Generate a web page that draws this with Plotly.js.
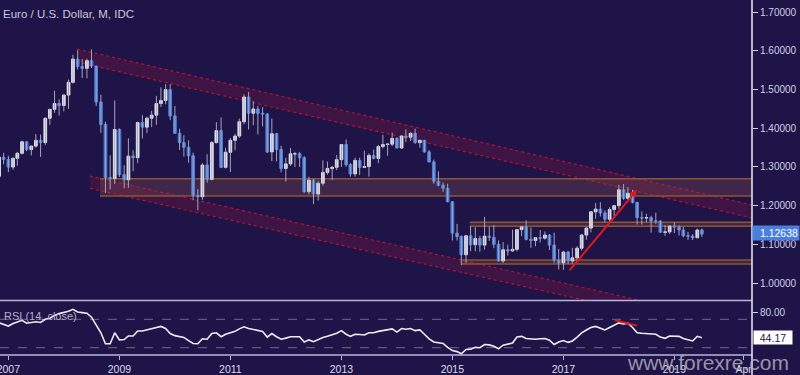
<!DOCTYPE html>
<html>
<head>
<meta charset="utf-8">
<script src="https://cdn.plot.ly/plotly-3.0.1.min.js"></script>
<style>
html,body{margin:0;padding:0;background:#1f1448;}
#chart{width:800px;height:375px;}
</style>
</head>
<body>
<div id="chart"></div>
<script>
// ---- Data (monthly EUR/USD, Nov 2006 .. Jul 2019) ----
const firstMonth = [2006, 10]; // year, 0-based month (Nov 2006)
const openP = [
1.2760,1.3250,
1.3197,1.2997,1.3225,1.3354,1.3652,1.3450,1.3540,1.3690,1.3630,1.4260,1.4490,1.4640,
1.4590,1.4860,1.5190,1.5790,1.5600,1.5550,1.5750,1.5610,1.4680,1.4100,1.2730,1.2700,
1.3970,1.2800,1.2670,1.3280,1.3240,1.4150,1.4030,1.4260,1.4340,1.4640,1.4720,1.5000,
1.4320,1.3870,1.3630,1.3510,1.3290,1.2270,1.2230,1.3050,1.2680,1.3630,1.3940,1.2990,
1.3380,1.3690,1.3800,1.4170,1.4810,1.4390,1.4500,1.4390,1.4370,1.3390,1.3860,1.3450,
1.2960,1.3080,1.3340,1.3340,1.3240,1.2360,1.2660,1.2300,1.2580,1.2860,1.2960,1.2990,
1.3190,1.3580,1.3060,1.2820,1.3170,1.2990,1.3010,1.3300,1.3220,1.3530,1.3580,1.3590,
1.3740,1.3490,1.3800,1.3770,1.3870,1.3630,1.3690,1.3390,1.3130,1.2630,1.2530,1.2450,
1.2100,1.1290,1.1200,1.0730,1.1220,1.0990,1.1150,1.0980,1.1210,1.1180,1.1000,1.0570,
1.0860,1.0830,1.0870,1.1380,1.1450,1.1130,1.1100,1.1170,1.1160,1.1240,1.0980,1.0590,
1.0520,1.0800,1.0570,1.0650,1.0900,1.1240,1.1420,1.1840,1.1910,1.1810,1.1650,1.1900,
1.2000,1.2410,1.2190,1.2320,1.2080,1.1690,1.1680,1.1690,1.1600,1.1600,1.1310,1.1320,
1.1470,1.1450,1.1370,1.1220,1.1210,1.1170,1.1370];
const highP = [
1.3270,1.3367,
1.3290,1.3249,1.3390,1.3680,1.3660,1.3550,1.3850,1.3840,1.4280,1.4500,1.4970,1.4750,
1.4880,1.5260,1.5900,1.6020,1.5790,1.5800,1.6040,1.5620,1.4870,1.4170,1.3300,1.4720,
1.4000,1.3050,1.3740,1.3430,1.4170,1.4340,1.4300,1.4450,1.4840,1.5060,1.5140,1.5140,
1.4580,1.3990,1.3820,1.3690,1.3370,1.2430,1.3100,1.3330,1.3670,1.4160,1.4280,1.3500,
1.3750,1.3860,1.4250,1.4880,1.4940,1.4700,1.4580,1.4550,1.4390,1.4250,1.3880,1.3550,
1.3240,1.3490,1.3390,1.3390,1.3280,1.2750,1.2690,1.2640,1.3170,1.3140,1.3030,1.3310,
1.3590,1.3710,1.3100,1.3240,1.3240,1.3420,1.3350,1.3450,1.3570,1.3830,1.3620,1.3890,
1.3770,1.3820,1.3970,1.3900,1.3990,1.3700,1.3700,1.3440,1.3190,1.2890,1.2600,1.2570,
1.2110,1.1530,1.1230,1.1230,1.1470,1.1440,1.1220,1.1710,1.1460,1.1500,1.1100,1.1060,
1.0990,1.1380,1.1390,1.1470,1.1620,1.1430,1.1190,1.1370,1.1330,1.1260,1.1300,1.0880,
1.0830,1.0830,1.0910,1.0950,1.1270,1.1450,1.1850,1.2070,1.2090,1.1880,1.1960,1.2020,
1.2540,1.2560,1.2480,1.2410,1.2100,1.1850,1.1790,1.1740,1.1820,1.1630,1.1500,1.1490,
1.1570,1.1490,1.1450,1.1320,1.1260,1.1410,1.1410];
const lowP = [
1.2740,1.3070,
1.2866,1.2930,1.3030,1.3320,1.3410,1.3300,1.3500,1.3260,1.3570,1.4090,1.4400,1.4330,
1.4440,1.4500,1.5160,1.5520,1.5300,1.5290,1.5560,1.4580,1.3880,1.2330,1.2420,1.2560,
1.2740,1.2450,1.2460,1.2890,1.3100,1.3740,1.3880,1.4030,1.4090,1.4550,1.4620,1.4210,
1.3860,1.3440,1.3270,1.3110,1.2140,1.1880,1.2150,1.2590,1.2650,1.3610,1.2970,1.2960,
1.2870,1.3430,1.3750,1.4100,1.3970,1.4080,1.3840,1.4050,1.3360,1.3150,1.3150,1.2860,
1.2620,1.3030,1.3000,1.3000,1.2330,1.2290,1.2040,1.2130,1.2520,1.2800,1.2660,1.2920,
1.3000,1.3010,1.2750,1.2750,1.2790,1.2990,1.2750,1.3200,1.3100,1.3480,1.3290,1.3540,
1.3480,1.3470,1.3640,1.3670,1.3600,1.3500,1.3370,1.3120,1.2570,1.2500,1.2360,1.2090,
1.1100,1.1100,1.0460,1.0520,1.0820,1.0820,1.0810,1.0860,1.1090,1.0900,1.0560,1.0520,
1.0710,1.0810,1.0820,1.1210,1.1100,1.0910,1.0950,1.1050,1.1120,1.0850,1.0520,1.0350,
1.0340,1.0490,1.0500,1.0570,1.0840,1.1120,1.1310,1.1660,1.1720,1.1570,1.1550,1.1720,
1.1920,1.2150,1.2150,1.2060,1.1510,1.1510,1.1570,1.1300,1.1530,1.1300,1.1220,1.1270,
1.1290,1.1230,1.1180,1.1110,1.1110,1.1160,1.1190];
const closeP = [
1.3250,1.3197,
1.2997,1.3225,1.3354,1.3652,1.3450,1.3540,1.3690,1.3630,1.4260,1.4490,1.4640,1.4590,
1.4860,1.5190,1.5790,1.5600,1.5550,1.5750,1.5610,1.4680,1.4100,1.2730,1.2700,1.3970,
1.2800,1.2670,1.3280,1.3240,1.4150,1.4030,1.4260,1.4340,1.4640,1.4720,1.5000,1.4320,
1.3870,1.3630,1.3510,1.3290,1.2270,1.2230,1.3050,1.2680,1.3630,1.3940,1.2990,1.3380,
1.3690,1.3800,1.4170,1.4810,1.4390,1.4500,1.4390,1.4370,1.3390,1.3860,1.3450,1.2960,
1.3080,1.3340,1.3340,1.3240,1.2360,1.2660,1.2300,1.2580,1.2860,1.2960,1.2990,1.3190,
1.3580,1.3060,1.2820,1.3170,1.2990,1.3010,1.3300,1.3220,1.3530,1.3580,1.3590,1.3740,
1.3490,1.3800,1.3770,1.3870,1.3630,1.3690,1.3390,1.3130,1.2630,1.2530,1.2450,1.2100,
1.1290,1.1200,1.0730,1.1220,1.0990,1.1150,1.0980,1.1210,1.1180,1.1000,1.0570,1.0860,
1.0830,1.0870,1.1380,1.1450,1.1130,1.1100,1.1170,1.1160,1.1240,1.0980,1.0590,1.0520,
1.0800,1.0570,1.0650,1.0900,1.1240,1.1420,1.1840,1.1910,1.1810,1.1650,1.1900,1.2000,
1.2410,1.2190,1.2320,1.2080,1.1690,1.1680,1.1690,1.1600,1.1600,1.1310,1.1320,1.1470,
1.1450,1.1370,1.1220,1.1210,1.1170,1.1370,1.12638];
const rsiVals = [
65,63,
60.5,64,66.5,68.5,64.5,66,66.5,65.5,70,71.5,75.5,78,
79.6,81.3,84,80.3,79.4,78.6,73,61.5,51,35.5,35.5,51,
41,41.5,46.5,46.5,53.5,53.5,55,56,58,60,57,50,
47,45.5,44.5,40,36,35.5,42.5,42,50,51,45.5,49,
51.5,53,56.5,59.5,57,56,55,53,45,50,45.5,42,
43.5,45.5,45.5,45.5,38,41,38.5,41.5,44.5,46,48,50.5,
54,49,46,49,48.5,48,51,51,53,54.5,55.5,56.5,
52,57,56,57,54,55,49,42.5,38,37,36,30.5,
26,24.5,21.5,27.5,28,30.5,30,34.5,34,32,28.5,33.5,
34.5,36.5,45,46,43,42,42,42.5,43,40.5,34.5,38,
40,37.5,39.5,45,51,55,58.5,60,57.5,55,58.5,61.5,
65,63.5,64.5,58.5,51,50.3,50,49.3,49,45,43.2,46.5,
46.5,46,43,41,39.5,46,44.17];

// tick labels
const tickDates = ['2007-01-01','2009-01-01','2011-01-01','2013-01-01','2015-01-01','2017-01-01','2019-01-01','2020-04-01'];
const tickLabels = ['2007','2009','2011','2013','2015','2017','2019','Apr'];
const priceTicks = [1.0,1.1,1.2,1.3,1.4,1.5,1.6,1.7];

// drawn annotations (channels, zones, trend lines)
const upperChannelX = ['2008-03-28','2020-05-26'];
const upperChannelTop = [1.6051, 1.2017];
const upperChannelBot = [1.5715, 1.1681];
const lowerChannelX = ['2008-06-21','2020-05-26'];
const lowerChannelTop = [1.2767, 0.8893];
const lowerChannelBot = [1.2449, 0.8575];
const zoneStart = ['2008-08-26','2015-04-26','2015-03-03'];
const zoneTop = [1.2697, 1.1570, 1.0595];
const zoneBot = [1.2250, 1.1466, 1.0492];
const trendX = ['2017-02-03','2018-04-30'];
const trendY = [1.0292, 1.2405];
const rsiTrendX = ['2017-12-06','2018-05-01'];
const rsiTrendY = [68.6, 61.1];
const lastPrice = 1.12638;
const lastRsi = 44.17;

// ---- Build ----
const months = [];
for (let i = 0; i < closeP.length; i++) {
  const d = new Date(Date.UTC(firstMonth[0], firstMonth[1] + i, 1));
  months.push(d.toISOString().slice(0, 10));
}
const wickX = [], wickY = [];
const bodyHi = [], bodyLo = [];
for (let i = 0; i < months.length; i++) {
  wickX.push(months[i], months[i], null);
  wickY.push(lowP[i], highP[i], null);
  bodyHi.push(Math.max(openP[i], closeP[i]));
  bodyLo.push(Math.min(openP[i], closeP[i]));
}

const BG = '#1f1448';
const BLUE = '#4a7fdc';
const FONT = 'Liberation Sans, Arial, sans-serif';
const xRange = ['2006-11-07', '2020-05-26'];

const traces = [
  {type:'scatter', mode:'lines', x:wickX, y:wickY, xaxis:'x', yaxis:'y',
   line:{color:'#a4a4bc', width:1}, hoverinfo:'skip', showlegend:false},
  {type:'candlestick', x:months, open:openP, high:bodyHi, low:bodyLo, close:closeP,
   xaxis:'x', yaxis:'y', showlegend:false, whiskerwidth:0,
   increasing:{fillcolor:'#f4f4fa', line:{color:'#dcdce8', width:1}},
   decreasing:{fillcolor:BLUE, line:{color:BLUE, width:1}}},
  {type:'scatter', mode:'lines', x:months, y:rsiVals, xaxis:'x', yaxis:'y2',
   line:{color:'#ececf4', width:1.6}, showlegend:false, hoverinfo:'skip'}
];

const shapes = [];
// channel bands
function band(xs, top, bot) {
  const path = `M ${xs[0]},${top[0]} L ${xs[1]},${top[1]} L ${xs[1]},${bot[1]} L ${xs[0]},${bot[0]} Z`;
  shapes.push({type:'path', xref:'x', yref:'y', path:path, fillcolor:'rgba(125,22,60,0.32)', line:{width:0}, layer:'below'});
  shapes.push({type:'line', xref:'x', yref:'y', x0:xs[0], x1:xs[1], y0:top[0], y1:top[1], line:{color:'#b3142e', width:1.2, dash:'dot'}, layer:'below'});
  shapes.push({type:'line', xref:'x', yref:'y', x0:xs[0], x1:xs[1], y0:bot[0], y1:bot[1], line:{color:'#b3142e', width:1.2, dash:'dot'}, layer:'below'});
}
band(upperChannelX, upperChannelTop, upperChannelBot);
band(lowerChannelX, lowerChannelTop, lowerChannelBot);
// horizontal zones
for (let i = 0; i < zoneStart.length; i++) {
  shapes.push({type:'rect', xref:'x', yref:'y', x0:zoneStart[i], x1:xRange[1], y0:zoneBot[i], y1:zoneTop[i],
    fillcolor:'rgba(135,78,80,0.32)', line:{width:0}, layer:'below'});
  shapes.push({type:'line', xref:'x', yref:'y', x0:zoneStart[i], x1:xRange[1], y0:zoneTop[i], y1:zoneTop[i], line:{color:'#8c5630', width:1.6}, layer:'below'});
  shapes.push({type:'line', xref:'x', yref:'y', x0:zoneStart[i], x1:xRange[1], y0:zoneBot[i], y1:zoneBot[i], line:{color:'#8c5630', width:1.6}, layer:'below'});
}
// RSI guide lines
[70, 30].forEach(v => shapes.push({type:'line', xref:'paper', yref:'y2', x0:0, x1:1, y0:v, y1:v,
  line:{color:'#6c6890', width:1, dash:'dash'}, layer:'below'}));
// RSI trend line
shapes.push({type:'line', xref:'x', yref:'y2', x0:rsiTrendX[0], x1:rsiTrendX[1], y0:rsiTrendY[0], y1:rsiTrendY[1],
  line:{color:'#e4161c', width:2}});
// panel separators and right axis line
shapes.push({type:'line', xref:'paper', yref:'paper', x0:0, x1:1, y0:0.1535, y1:0.1535, line:{color:'#bab2dc', width:1.5}});
shapes.push({type:'line', xref:'paper', yref:'paper', x0:0, x1:1, y0:0, y1:0, line:{color:'#bab2dc', width:1.5}});
shapes.push({type:'line', xref:'paper', yref:'paper', x0:1, x1:1, y0:-0.06, y1:1, line:{color:'#eeeef6', width:1.5}});

const annotations = [
  {xref:'paper', yref:'y2', x:0, xanchor:'left', xshift:2, y:74.6, yanchor:'middle', showarrow:false,
   text:'RSI (14, close)', font:{family:FONT, size:11, color:'#b4b0c8'}},
  {xref:'x', yref:'y', axref:'x', ayref:'y', x:trendX[1], y:trendY[1], ax:trendX[0], ay:trendY[0],
   text:'', showarrow:true, arrowhead:2, arrowsize:0.7, arrowwidth:2, arrowcolor:'#e4161c'},
  {xref:'paper', yref:'y', x:1, xanchor:'left', xshift:0, y:lastPrice, yanchor:'middle', yshift:1, showarrow:false,
   text:'1.12638', bgcolor:BLUE, width:44, height:12, borderpad:1, align:'right',
   font:{family:FONT, size:10.5, color:'#ffffff'}},
  {xref:'paper', yref:'y2', x:1, xanchor:'left', xshift:1, y:lastRsi, yanchor:'middle', showarrow:false,
   text:'44.17', bgcolor:'#ffffff', width:37, height:12, borderpad:0.5, align:'center',
   font:{family:FONT, size:10.5, color:'#1f1448'}},
  {xref:'paper', yref:'paper', x:708/752, xanchor:'center', y:-0.02, yanchor:'middle', showarrow:false,
   text:'www.forexre.com', font:{family:FONT, size:21, color:'rgba(175,175,188,0.85)'}}
];

const layout = {
  width:800, height:375,
  margin:{l:0, r:48, t:0, b:20, pad:0},
  paper_bgcolor:BG, plot_bgcolor:BG,
  showlegend:false,
  boxgap:0.08,
  font:{family:FONT, color:'#d4d4e4'},
  title:{text:'Euro / U.S. Dollar, M, IDC', x:3/800, xanchor:'left', xref:'container',
         y:1-14/375, yanchor:'middle', yref:'container',
         font:{family:FONT, size:11.5, color:'#c8c8da'}},
  xaxis:{type:'date', range:xRange, anchor:'y2', showgrid:false, zeroline:false, showline:false,
         rangeslider:{visible:false}, tickmode:'array', tickvals:tickDates, ticktext:tickLabels,
         ticklabeloverflow:'allow',
         ticks:'outside', ticklen:4, tickwidth:1, tickcolor:'#bab2dc',
         tickfont:{family:FONT, size:10.5, color:'#dcdcea'}, fixedrange:true},
  yaxis:{domain:[0.1549, 1], range:[0.956, 1.7318], side:'right', anchor:'x',
         showgrid:false, zeroline:false, showline:false,
         tickmode:'array', tickvals:priceTicks, tickformat:'.5f',
         ticks:'outside', ticklen:5, tickwidth:1, tickcolor:'#d0d0e0',
         tickfont:{family:FONT, size:10, color:'#d0d0e0'}, fixedrange:true},
  yaxis2:{domain:[0, 0.1521], range:[19.72, 95.77], side:'right', anchor:'x',
         showgrid:false, zeroline:false, showline:false,
         tickmode:'array', tickvals:[80], tickformat:'.2f',
         ticks:'outside', ticklen:5, tickwidth:1, tickcolor:'#d0d0e0',
         tickfont:{family:FONT, size:10, color:'#d0d0e0'}, fixedrange:true},
  shapes:shapes,
  annotations:annotations
};

Plotly.newPlot('chart', traces, layout, {staticPlot:true, displayModeBar:false});
</script>
</body>
</html>
